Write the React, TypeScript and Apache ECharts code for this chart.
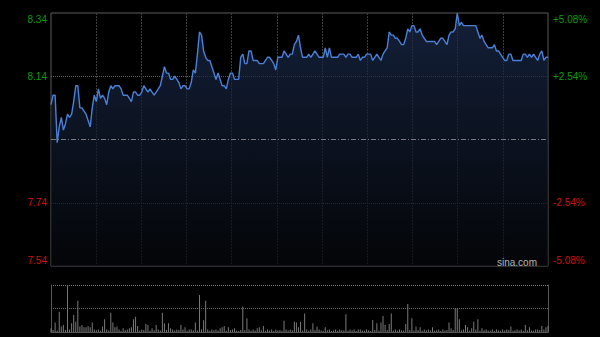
import React, { useEffect, useRef } from 'react';
import * as echarts from 'echarts';

const PRE_CLOSE = 7.94;

// one price per minute (242 minutes)
const prices = [
  8.05, 8.08, 8.08, 7.93, 7.98, 8.01, 7.97, 7.99, 8.02, 8.01,
  8.02, 8.06, 8.11, 8.11, 8.04, 8.04, 8.03, 8.02, 8.00, 7.98,
  8.04, 8.08, 8.06, 8.10, 8.07, 8.08, 8.07, 8.05, 8.09, 8.11,
  8.10, 8.11, 8.11, 8.11, 8.10, 8.08, 8.08, 8.08, 8.07, 8.06,
  8.09, 8.09, 8.08, 8.08, 8.09, 8.11, 8.10, 8.09, 8.10, 8.09,
  8.08, 8.09, 8.10, 8.11, 8.14, 8.17, 8.15, 8.15, 8.13, 8.13,
  8.14, 8.13, 8.12, 8.10, 8.11, 8.11, 8.10, 8.10, 8.12, 8.16,
  8.15, 8.21, 8.28, 8.27, 8.22, 8.20, 8.19, 8.19, 8.17, 8.15,
  8.13, 8.15, 8.13, 8.11, 8.11, 8.10, 8.13, 8.15, 8.15, 8.13,
  8.13, 8.13, 8.20, 8.21, 8.18, 8.18, 8.22, 8.22, 8.19, 8.19,
  8.19, 8.18, 8.18, 8.18, 8.19, 8.20, 8.20, 8.19, 8.18, 8.16,
  8.20, 8.20, 8.20, 8.22, 8.21, 8.20, 8.21, 8.21, 8.24, 8.25,
  8.27, 8.23, 8.20, 8.20, 8.20, 8.21, 8.20, 8.21, 8.22, 8.21,
  8.20, 8.20, 8.20, 8.23, 8.20, 8.23, 8.20, 8.20, 8.20, 8.20,
  8.21, 8.21, 8.21, 8.20, 8.21, 8.21, 8.20, 8.20, 8.20, 8.21,
  8.19, 8.20, 8.20, 8.21, 8.21, 8.21, 8.19, 8.20, 8.21, 8.20,
  8.19, 8.21, 8.22, 8.23, 8.28, 8.27, 8.27, 8.26, 8.26, 8.25,
  8.24, 8.24, 8.26, 8.29, 8.28, 8.30, 8.30, 8.28, 8.28, 8.29,
  8.27, 8.26, 8.25, 8.25, 8.25, 8.25, 8.25, 8.24, 8.25, 8.26,
  8.26, 8.25, 8.24, 8.27, 8.28, 8.28, 8.29, 8.34, 8.30, 8.31,
  8.30, 8.30, 8.30, 8.30, 8.30, 8.30, 8.30, 8.28, 8.26, 8.27,
  8.25, 8.24, 8.23, 8.23, 8.23, 8.24, 8.22, 8.22, 8.21, 8.20,
  8.19, 8.19, 8.21, 8.21, 8.19, 8.19, 8.19, 8.19, 8.19, 8.21,
  8.21, 8.20, 8.21, 8.20, 8.21, 8.20, 8.19, 8.21, 8.22, 8.19,
  8.20, 8.20,
];

// one volume per minute
const volumes = [
  16, 8, 40, 6, 86, 23, 30, 9, 200, 11,
  37, 72, 44, 133, 23, 30, 20, 20, 26, 20,
  40, 11, 7, 11, 5, 23, 54, 11, 6, 82,
  40, 20, 23, 11, 5, 16, 7, 11, 16, 20,
  54, 65, 26, 6, 11, 8, 34, 30, 5, 16,
  7, 30, 11, 6, 82, 37, 9, 37, 16, 11,
  6, 11, 8, 30, 11, 20, 5, 11, 11, 7,
  40, 6, 157, 11, 50, 133, 11, 5, 11, 7,
  11, 6, 16, 20, 26, 5, 20, 8, 11, 16,
  6, 4, 9, 108, 7, 58, 11, 5, 11, 6,
  16, 20, 7, 26, 5, 11, 6, 11, 4, 11,
  6, 8, 5, 48, 11, 6, 11, 7, 44, 40,
  20, 44, 6, 79, 11, 5, 11, 37, 8, 23,
  11, 6, 5, 20, 7, 11, 4, 6, 11, 5,
  11, 7, 6, 76, 5, 11, 6, 11, 4, 11,
  11, 6, 5, 11, 7, 4, 51, 9, 37, 6,
  40, 68, 30, 8, 34, 79, 6, 11, 5, 11,
  7, 6, 34, 119, 9, 58, 6, 23, 8, 20,
  5, 11, 7, 11, 6, 20, 5, 7, 11, 4,
  11, 6, 8, 40, 16, 9, 101, 101, 54, 7,
  11, 30, 20, 6, 16, 44, 11, 54, 5, 16,
  7, 11, 6, 5, 11, 4, 11, 6, 5, 11,
  6, 11, 8, 23, 5, 7, 11, 6, 11, 5,
  30, 7, 20, 6, 5, 11, 11, 8, 26, 11,
  20, 26,
];

// tick labels from bottom (-40 cents) to top (+40 cents)
const priceTickLabels = ['7.54', '7.74', '', '8.14', '8.34'];
const pctTickLabels = ['-5.08%', '-2.54%', '', '+2.54%', '+5.08%'];
const VOL_MAX = 200;

export default function App() {
  const ref = useRef<HTMLDivElement>(null);

  useEffect(() => {
    const chart = echarts.init(ref.current!, null, { renderer: 'svg' });
    const N = prices.length - 1;
    const priceData = prices.map((p, i) => [i, (p - PRE_CLOSE) * 100]);
    const volData = volumes.map((v, i) => [i, v]);
    const font = '"Liberation Sans", Arial, sans-serif';
    const GREEN = '#0c9a0c';
    const RED = '#cc1111';
    const rich: any = {
      gt: { color: GREEN, fontSize: 10, fontFamily: font, padding: [12, 0, 0, 0] },
      g: { color: GREEN, fontSize: 10, fontFamily: font },
      r: { color: RED, fontSize: 10, fontFamily: font },
      rb: { color: RED, fontSize: 10, fontFamily: font, padding: [0, 0, 12, 0] },
    };
    const keys = ['rb', 'r', 'g', 'g', 'gt'];
    const fmt = (labels: string[]) => (v: number) => {
      const i = Math.round((v + 40) / 20);
      const t = labels[i];
      if (!t) return '';
      return `{${keys[i]}|${t}}`;
    };
    const vColors = ['transparent'];
    for (let k = 0; k < 10; k++) vColors.push('#3e3e3e');
    vColors.push('transparent');

    chart.setOption({
      animation: false,
      backgroundColor: '#000',
      grid: [
        { left: 51, top: 13, width: 497, height: 253, show: true, borderColor: '#5a5a5a', borderWidth: 1, backgroundColor: 'transparent' },
        { left: 51, top: 285, width: 497, height: 47, show: false },
      ],
      xAxis: [
        {
          type: 'value', gridIndex: 0, min: 0, max: N, interval: N / 11,
          axisLine: { show: false }, axisTick: { show: false }, axisLabel: { show: false },
          splitLine: { show: true, lineStyle: { color: vColors, type: [2, 1], width: 1 } },
        },
        {
          type: 'value', gridIndex: 1, min: 0, max: N,
          axisLine: { show: true, onZero: false, lineStyle: { color: '#555' } },
          axisTick: { show: false }, axisLabel: { show: false }, splitLine: { show: false },
        },
      ],
      yAxis: [
        {
          type: 'value', gridIndex: 0, position: 'left', min: -40, max: 40, interval: 20,
          axisLine: { show: false }, axisTick: { show: false },
          axisLabel: { formatter: fmt(priceTickLabels), rich, margin: 4 },
          splitLine: { show: true, lineStyle: { color: ['transparent', '#5c5c5c', 'transparent', '#5c5c5c', 'transparent'], type: [1, 1], width: 1 } },
        },
        {
          type: 'value', gridIndex: 0, position: 'right', min: -40, max: 40, interval: 20,
          axisLine: { show: false }, axisTick: { show: false },
          axisLabel: { formatter: fmt(pctTickLabels), rich, margin: 5 },
          splitLine: { show: false },
        },
        {
          type: 'value', gridIndex: 1, position: 'left', min: 0, max: VOL_MAX, interval: VOL_MAX / 2,
          axisLine: { show: true, onZero: false, lineStyle: { color: '#555' } }, axisTick: { show: false }, axisLabel: { show: false },
          splitLine: { show: true, lineStyle: { color: ['transparent', '#6a6a6a', '#7a7a7a'], type: [1, 1], width: 1 } },
        },
        {
          type: 'value', gridIndex: 1, position: 'right', min: 0, max: VOL_MAX,
          axisLine: { show: true, onZero: false, lineStyle: { color: '#555' } }, axisTick: { show: false }, axisLabel: { show: false },
          splitLine: { show: false },
        },
      ],
      series: [
        {
          type: 'line', xAxisIndex: 0, yAxisIndex: 0, data: priceData,
          symbol: 'none', showSymbol: false, smooth: false,
          lineStyle: { color: '#4a80d8', width: 1.4 },
          areaStyle: {
            origin: 'start',
            color: new echarts.graphic.LinearGradient(0, 0, 0, 1, [
              { offset: 0, color: '#1c2d50' },
              { offset: 1, color: '#05070b' },
            ]),
          },
          markLine: {
            silent: true, symbol: 'none', label: { show: false },
            lineStyle: { color: '#7a7a7a', type: [5, 2, 1, 2], width: 1 },
            data: [{ yAxis: 0 }],
          },
        },
        {
          type: 'bar', xAxisIndex: 1, yAxisIndex: 2, data: volData,
          barWidth: 1, itemStyle: { color: '#7a7a7a' },
        },
      ],
      graphic: [
        {
          type: 'text', x: 537, y: 262, silent: true, z: 100,
          style: { text: 'sina.com', align: 'right', verticalAlign: 'middle', fill: '#b4b4b4', font: '10px "Liberation Sans", Arial, sans-serif' },
        },
      ],
    });
    return () => chart.dispose();
  }, []);

  return (
    <div
      ref={ref}
      style={{ position: 'fixed', left: 0, top: 0, width: 600, height: 337, background: '#000' }}
    />
  );
}
